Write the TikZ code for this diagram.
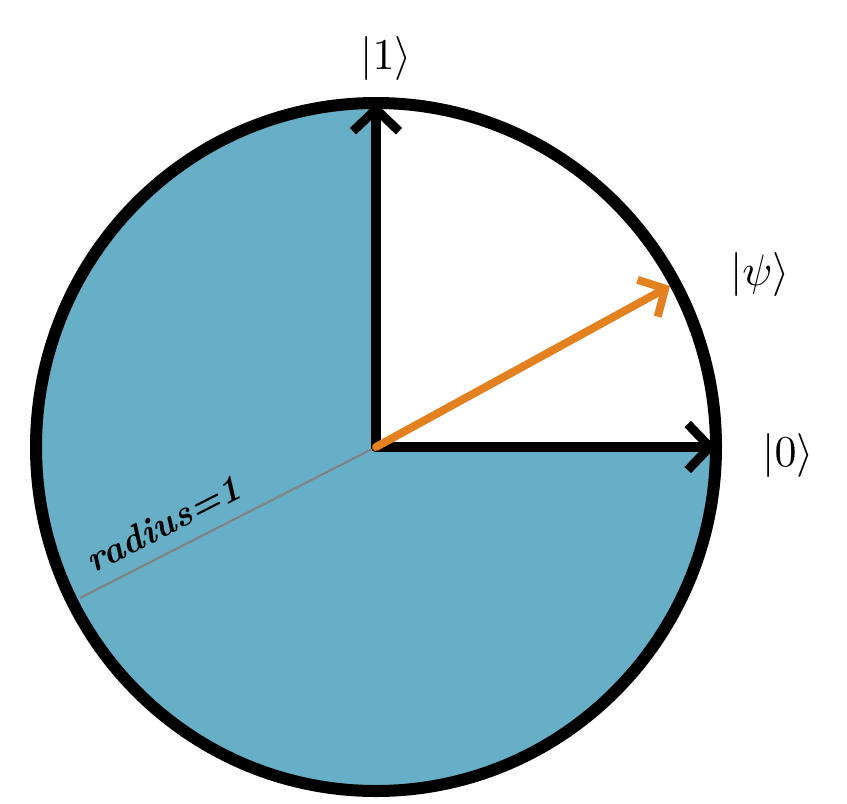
\documentclass[tikz,border=0pt]{standalone}
\usetikzlibrary{arrows.meta}
\definecolor{fillblue}{HTML}{67AFC6}
\definecolor{psiorange}{HTML}{E3801F}
\tikzset{
  axis/.style={line width=10pt, line cap=round, -{Straight Barb[length=22pt,width=46pt,line width=9pt]}},
  statevec/.style={psiorange, line width=8pt, line cap=round, -{Straight Barb[length=20pt,width=42pt,line width=8pt]}},
  ket/.style={scale=4.4},
}
\begin{document}
\begin{tikzpicture}[x=1pt,y=-1pt]
\useasboundingbox (0,0) rectangle (847,804);
\coordinate (O) at (376,447);
\coordinate (N) at (376,103);
\coordinate (E) at (716,447);
\coordinate (P) at (670,286);
\coordinate (R) at (80,598);
% filled three quadrants
\fill[fillblue] (O) -- (N) arc[start angle=90, end angle=360, x radius=340, y radius=-344] -- cycle;
% circle
\draw[line width=12pt] (O) ellipse[x radius=340, y radius=344];
% radius line
\draw[gray, line width=2pt] (O) -- (R);
\node[rotate=27, scale=3.7, font=\bfseries\itshape, inner sep=0pt] (rlab) at (163,524) {radius=1};
% axes
\draw[axis] (O) -- (N);
\draw[axis] (O) -- (E);
\draw[statevec] (O) -- (P);
% labels
\node[ket] (k1) at (386,58) {$|1\rangle$};
\node[ket] (k0) at (788,455) {$|0\rangle$};
\node[ket] (kp) at (760,274) {$|\psi\rangle$};
\end{tikzpicture}
\end{document}
